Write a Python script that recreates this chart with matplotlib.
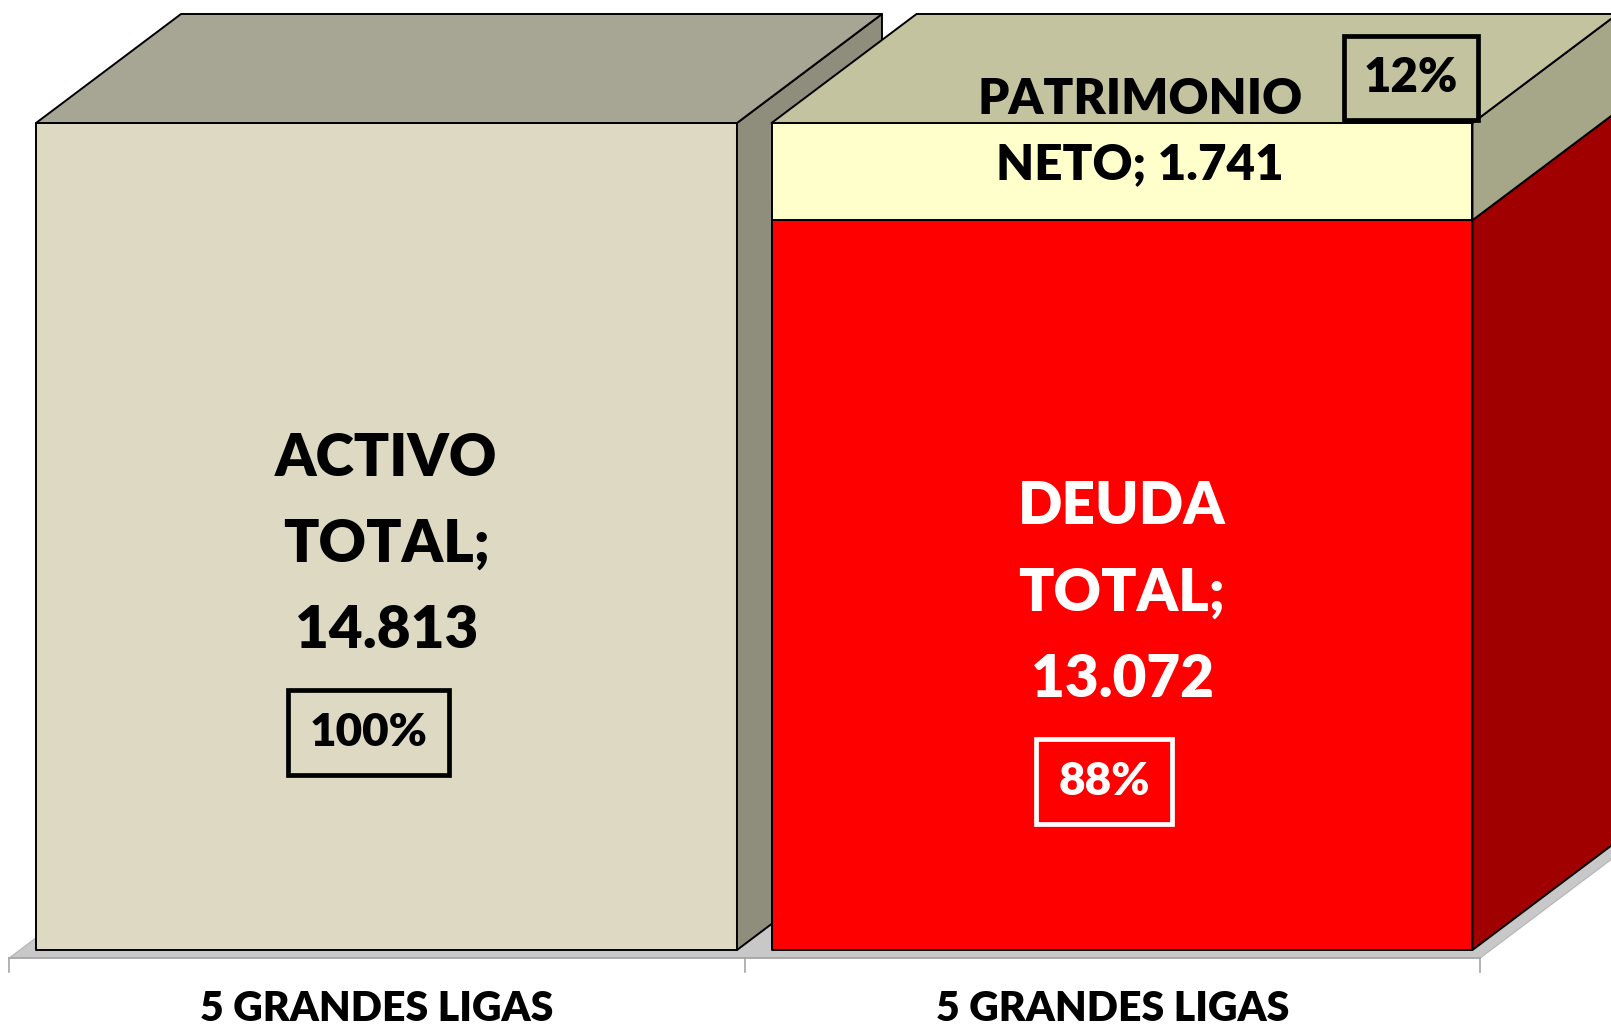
import matplotlib

matplotlib.use("Agg")
import matplotlib.pyplot as plt
from matplotlib.patches import Polygon


# data (millones)
categories = ["5 GRANDES LIGAS", "5 GRANDES LIGAS"]
segment_names = ["ACTIVO TOTAL", "DEUDA TOTAL", "PATRIMONIO NETO"]
segment_values = [14813, 13072, 1741]
segment_bar = [0, 1, 1]
total_assets = 14813

# styles per segment: front, top, side
FACE_COLORS = [
    ("#DDD9C3", "#A7A694", "#8F8D7B"),
    ("#FF0000", "#C00000", "#A00000"),
    ("#FFFFCC", "#C3C39F", "#A6A688"),
]
TEXT_COLORS = ["black", "white", "black"]

# layout (pixels of the 1611x1025 canvas)
W_PX, H_PX = 1611, 1025
CAT_PX, CAT0_PX = 735.5, 386.5
BASE_PX = 950
UNIT_PX = 0.05583
BAR_W = 0.953
DEPTH_X = 145 / CAT_PX
DEPTH_Y = 109 / UNIT_PX
FLOOR_DX, FLOOR_DY = -0.013, -8 / UNIT_PX
EDGE = dict(edgecolor="black", linewidth=1.4, joinstyle="round")
FONT = dict(family="Lato", weight="heavy")


def fmt(v):
    return f"{v:,}".replace(",", ".")


def draw_box(ax, x0, x1, y0, y1, colors, with_top, z):
    front, top, side = colors
    ax.add_patch(Polygon([(x0, y0), (x1, y0), (x1, y1), (x0, y1)], facecolor=front, zorder=z, **EDGE))
    ax.add_patch(
        Polygon(
            [(x1, y0), (x1 + DEPTH_X, y0 + DEPTH_Y), (x1 + DEPTH_X, y1 + DEPTH_Y), (x1, y1)],
            facecolor=side,
            zorder=z,
            **EDGE,
        )
    )
    if with_top:
        ax.add_patch(
            Polygon(
                [(x0, y1), (x1, y1), (x1 + DEPTH_X, y1 + DEPTH_Y), (x0 + DEPTH_X, y1 + DEPTH_Y)],
                facecolor=top,
                zorder=z,
                **EDGE,
            )
        )


fig = plt.figure(figsize=(W_PX / 100, H_PX / 100), dpi=100)
fig.patch.set_facecolor("white")
ax = fig.add_axes([0, 0, 1, 1])
ax.set_xlim(-CAT0_PX / CAT_PX, (W_PX - CAT0_PX) / CAT_PX)
ax.set_ylim(-(H_PX - BASE_PX) / UNIT_PX, BASE_PX / UNIT_PX)
ax.axis("off")

# floor
n = len(categories)
fx0, fx1 = -0.5 + FLOOR_DX, n - 0.5 + FLOOR_DX
fdx, fdy = DEPTH_X * 1.6, DEPTH_Y * 1.6
ax.add_patch(
    Polygon(
        [(fx0, FLOOR_DY), (fx1, FLOOR_DY), (fx1 + fdx, FLOOR_DY + fdy), (fx0 + fdx, FLOOR_DY + fdy)],
        facecolor="#C8C8C8",
        edgecolor="#B4B4B4",
        linewidth=0.8,
        zorder=1,
    )
)
ax.plot([fx0, fx1], [FLOOR_DY, FLOOR_DY], color="#A6A6A6", lw=1.2, zorder=2)
for k in range(n + 1):
    xt = k - 0.5 + FLOOR_DX
    ax.plot([xt, xt], [FLOOR_DY, FLOOR_DY - 14 / UNIT_PX], color="#A6A6A6", lw=1.2, zorder=2)
for k, cat in enumerate(categories):
    ax.annotate(cat, xy=(k + FLOOR_DX, FLOOR_DY), xytext=(0, -51), textcoords="offset pixels",
                ha="center", va="center", fontsize=29.5, **FONT)


def pct_box(tc, pad):
    return dict(boxstyle=f"square,pad={pad}", facecolor="none", edgecolor=tc, linewidth=3.4)


# bars
stack = [0] * n
for i, (name, v, b) in enumerate(zip(segment_names, segment_values, segment_bar)):
    y0 = stack[b]
    y1 = y0 + v
    stack[b] = y1
    is_top = i == len(segment_values) - 1 or segment_bar[i + 1] != b
    draw_box(ax, b - BAR_W / 2, b + BAR_W / 2, y0, y1, FACE_COLORS[i], is_top, 3 + b)

    pct = f"{round(100 * v / total_assets)}%"
    tc = TEXT_COLORS[i]
    first, second = name.split(" ")
    if v > 0.2 * total_assets:
        mid = (y0 + y1) / 2
        ax.annotate(f"{first}\n{second};\n{fmt(v)}", xy=(b, mid), xytext=(0, -8),
                    textcoords="offset pixels", ha="center", va="center",
                    fontsize=42, color=tc, linespacing=1.76, zorder=10, **FONT)
        ax.annotate(pct, xy=(b, mid), xytext=(-18, -196), textcoords="offset pixels",
                    ha="center", va="center", fontsize=33, color=tc, zorder=10,
                    bbox=pct_box(tc, 0.48), **FONT)
    else:
        ax.annotate(f"{first}\n{second}; {fmt(v)}", xy=(b, y1), xytext=(18, -9),
                    textcoords="offset pixels", ha="center", va="center",
                    fontsize=35.5, color=tc, linespacing=1.56, zorder=10, **FONT)
        ax.annotate(pct, xy=(b, y1), xytext=(289, 45), textcoords="offset pixels",
                    ha="center", va="center", fontsize=34, color=tc, zorder=10,
                    bbox=pct_box(tc, 0.42), **FONT)

fig.savefig("out.png", dpi=100, facecolor="white")
